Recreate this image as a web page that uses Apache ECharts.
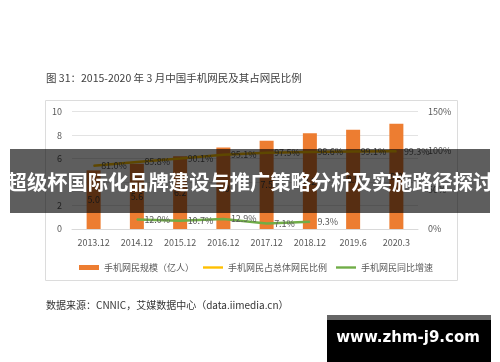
<!DOCTYPE html>
<html>
<head>
<meta charset="utf-8">
<script src="https://cdn.jsdelivr.net/npm/echarts@6/dist/echarts.min.js"></script>
<style>
html,body{margin:0;padding:0;background:#fff;}
#c{width:500px;height:362px;}
</style>
</head>
<body>
<div id="c"></div>
<script>
// ---- data ----
var categories = ['2013.12', '2014.12', '2015.12', '2016.12', '2017.12', '2018.12', '2019.6', '2020.3'];
var mobileUsers = [5.00, 5.57, 6.20, 6.95, 7.53, 8.17, 8.47, 8.97];          // 亿人
var mobileShare = [81.0, 85.8, 90.1, 95.1, 97.5, 98.6, 99.1, 99.3];         // %
var mobileGrowth = [null, 12.0, 10.7, 12.9, 7.1, 9.3, null, null];         // %
var leftTicks = {min: 0, max: 10, interval: 2};
var rightTicks = {min: 0, max: 150, interval: 50};
var seriesNames = ['手机网民规模（亿人）', '手机网民占总体网民比例', '手机网民同比增速'];
var titleText = '图 31：2015-2020 年 3 月中国手机网民及其占网民比例';
var sourceText = '数据来源：CNNIC，艾媒数据中心（data.iimedia.cn）';
var bannerText = '超级杯国际化品牌建设与推广策略分析及实施路径探讨';
var watermarkText = 'www.zhm-j9.com';

var FONT = '"Noto Sans CJK SC", "Noto Sans", sans-serif';
var chart = echarts.init(document.getElementById('c'), null, {renderer: 'canvas'});
var lineLabel = {
  show: true, position: 'right', distance: 7,
  color: '#595959', fontSize: 9, fontFamily: FONT,
  formatter: function (p) { return p.value == null ? '' : p.value.toFixed(1) + '%'; }
};
chart.setOption({
  animation: false,
  textStyle: {fontFamily: FONT},
  grid: {left: 72, right: 82, top: 111.7, bottom: 133},
  legend: {
    left: 74, top: 258, itemWidth: 20, itemHeight: 5, itemGap: 9,
    textStyle: {fontSize: 9, color: '#595959', fontFamily: FONT},
    data: [
      {name: seriesNames[0], icon: 'rect'},
      {name: seriesNames[1], icon: 'path://M0 0H21V2.5H0Z'},
      {name: seriesNames[2], icon: 'path://M0 0H21V2.5H0Z'}
    ]
  },
  xAxis: {
    type: 'category', data: categories,
    axisLine: {lineStyle: {color: '#d9d9d9'}},
    axisTick: {show: false},
    axisLabel: {color: '#595959', fontSize: 9, margin: 9, fontFamily: FONT}
  },
  yAxis: [
    {
      type: 'value', min: leftTicks.min, max: leftTicks.max, interval: leftTicks.interval,
      axisLine: {show: false}, axisTick: {show: false},
      axisLabel: {color: '#595959', fontSize: 9, margin: 10, fontFamily: FONT},
      splitLine: {lineStyle: {color: '#e3e3e3'}}
    },
    {
      type: 'value', min: rightTicks.min, max: rightTicks.max, interval: rightTicks.interval,
      axisLine: {show: false}, axisTick: {show: false},
      axisLabel: {color: '#595959', fontSize: 9, margin: 10, fontFamily: FONT, formatter: '{value}%'},
      splitLine: {show: false}
    }
  ],
  series: [
    {
      name: seriesNames[0], type: 'bar', data: mobileUsers, barWidth: 14,
      itemStyle: {color: '#ED7D31'},
      label: {show: true, position: 'inside', color: '#404040', fontSize: 9, fontFamily: FONT,
        formatter: function (p) { return p.value.toFixed(1); }}
    },
    {
      name: seriesNames[1], type: 'line', yAxisIndex: 1, data: mobileShare,
      symbol: 'circle', symbolSize: 1, itemStyle: {color: '#FFC000'},
      lineStyle: {color: '#FFC000', width: 2.5}, label: lineLabel, z: 3
    },
    {
      name: seriesNames[2], type: 'line', yAxisIndex: 1, data: mobileGrowth,
      symbol: 'circle', symbolSize: 1, itemStyle: {color: '#70AD47'},
      lineStyle: {color: '#70AD47', width: 2.5}, label: lineLabel, z: 3
    }
  ],
  graphic: [
    {type: 'rect', z: -1, shape: {x: 45.5, y: 100.5, width: 412, height: 180},
      style: {fill: 'none', stroke: '#dcdcdc', lineWidth: 1}},
    {type: 'text', z: 10, x: 46, y: 78,
      style: {text: titleText, fill: '#404040', font: '10.5px ' + FONT, verticalAlign: 'middle'}},
    {type: 'text', z: 10, x: 46, y: 305,
      style: {text: sourceText, fill: '#333333', font: '10px ' + FONT, verticalAlign: 'middle'}},
    {type: 'rect', z: 100, shape: {x: 10, y: 149, width: 480, height: 64},
      style: {fill: 'rgba(0,0,0,0.63)'}},
    {type: 'text', z: 101, x: 250, y: 182,
      style: {text: bannerText, fill: '#ffffff', font: 'bold 20.3px ' + FONT, align: 'center', verticalAlign: 'middle'}},
    {type: 'rect', z: 100, shape: {x: 327, y: 315, width: 164, height: 47}, style: {fill: '#000000'}},
    {type: 'rect', z: 101, shape: {x: 327, y: 315, width: 164, height: 5}, style: {fill: '#666666'}},
    {type: 'text', z: 102, x: 408, y: 338,
      style: {text: watermarkText, fill: '#ffffff', font: 'bold 15px "DejaVu Sans", sans-serif', align: 'center', verticalAlign: 'middle'}}
  ]
});
</script>
</body>
</html>
